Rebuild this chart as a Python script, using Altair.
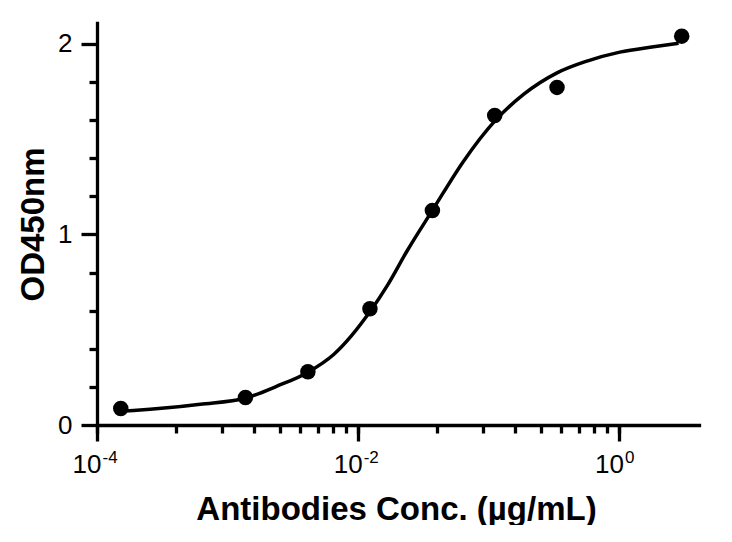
import altair as alt
import pandas as pd

# measured points
conc = [0.000152, 0.00137, 0.00412, 0.0123, 0.037, 0.111, 0.333, 3.0]
od = [0.087, 0.144, 0.280, 0.610, 1.126, 1.625, 1.772, 2.041]

# fitted curve
curve_conc = [1.51e-4, 1.905e-4, 3.44e-4, 6.18e-4, 1.38e-3, 2.39e-3, 4.10e-3,
              6.49e-3, 0.0124, 0.0166, 0.0236, 0.0372, 0.0641, 0.111, 0.1845,
              0.333, 0.565, 1.008, 1.828, 2.84]
curve_od = [0.072, 0.076, 0.090, 0.109, 0.142, 0.204, 0.276, 0.370, 0.598,
            0.729, 0.912, 1.129, 1.385, 1.595, 1.735, 1.848, 1.910, 1.957,
            1.985, 2.003]

x_major = [1e-4, 1e-2, 1.0]
x_major_exp = ["-4", "-2", "0"]
x_minor = [4e-4, 9e-4, 1.6e-3, 2.5e-3, 3.6e-3, 4.9e-3, 6.4e-3, 8.1e-3,
           0.04, 0.09, 0.16, 0.25, 0.36, 0.49, 0.64, 0.81]
y_major = [0, 1, 2]
y_minor = [0.2, 0.4, 0.6, 0.8, 1.2, 1.4, 1.6, 1.8]

x_title = "Antibodies Conc. (µg/mL)"
y_title = "OD450nm"

FONT = "Liberation Sans"

pts = pd.DataFrame({"conc": conc, "od": od})
crv = pd.DataFrame({"conc": curve_conc, "od": curve_od})

xscale = alt.Scale(type="log", domain=[1e-4, 4.07], nice=False)
yscale = alt.Scale(domain=[0, 2.11], nice=False, zero=False)

# exponent label expression for the major decades
exp_expr = (
    f"datum.value > {x_major[0]*0.9} && datum.value < {x_major[0]*1.1} ? '{x_major_exp[0]}' : "
    f"datum.value > {x_major[1]*0.9} && datum.value < {x_major[1]*1.1} ? '{x_major_exp[1]}' : "
    f"datum.value > {x_major[2]*0.9} && datum.value < {x_major[2]*1.1} ? '{x_major_exp[2]}' : ''"
)

axis_common = dict(grid=False, domainColor="black", tickColor="black",
                   domainWidth=3.3, tickWidth=3.3, labelColor="black",
                   labelFont=FONT, titleFont=FONT, titleColor="black")

x_axis_major = alt.Axis(values=x_major, labelExpr="'10'", orient="bottom",
                        tickSize=16, labelFontSize=26, labelAlign="right",
                        labelBaseline="alphabetic", labelPadding=31, labelOffset=4,
                        labelOverlap=False, labelFlush=False,
                        title=x_title, titleFontSize=33, titleFontWeight="bold",
                        titleBaseline="alphabetic", titleY=94, titleX=299,
                        domainCap="square", **axis_common)
x_axis_minor = alt.Axis(values=x_minor + x_major, orient="bottom", tickSize=8,
                        labelExpr=exp_expr, labelFontSize=17, labelAlign="left",
                        labelBaseline="alphabetic", labelPadding=29, labelOffset=5,
                        labelOverlap=False, labelFlush=False,
                        domain=False, title="",
                        **axis_common)
y_axis_major = alt.Axis(values=y_major, orient="left", tickSize=16,
                        labelFontSize=26, labelPadding=9,
                        labelExpr="replace(datum.label, '.0', '')",
                        labelOverlap=False,
                        title=y_title, titleFontSize=33, titleFontWeight="bold",
                        titleBaseline="alphabetic", titleX=-54, titleY=201,
                        domainCap="square", **axis_common)
y_axis_minor = alt.Axis(values=y_minor, orient="left", tickSize=8,
                        labels=False, domain=False, title="",
                        **axis_common)

line = alt.Chart(crv).mark_line(color="black", strokeWidth=3.5,
                                interpolate="monotone").encode(
    x=alt.X("conc:Q", scale=xscale, axis=x_axis_minor),
    y=alt.Y("od:Q", scale=yscale, axis=y_axis_minor),
)

points = alt.Chart(pts).mark_point(filled=True, color="black", size=240,
                                   opacity=1, shape="circle").encode(
    x=alt.X("conc:Q", scale=xscale, axis=x_axis_major),
    y=alt.Y("od:Q", scale=yscale, axis=y_axis_major),
)

chart = alt.layer(line, points).resolve_axis(
    x="independent", y="independent"
).properties(
    width=602, height=402,
    padding={"left": 89, "top": 15, "right": 25, "bottom": 100},
    autosize="none",
    background="white",
).configure_view(stroke=None)

chart.save("out.html", embed_options={"renderer": "svg", "actions": False})
